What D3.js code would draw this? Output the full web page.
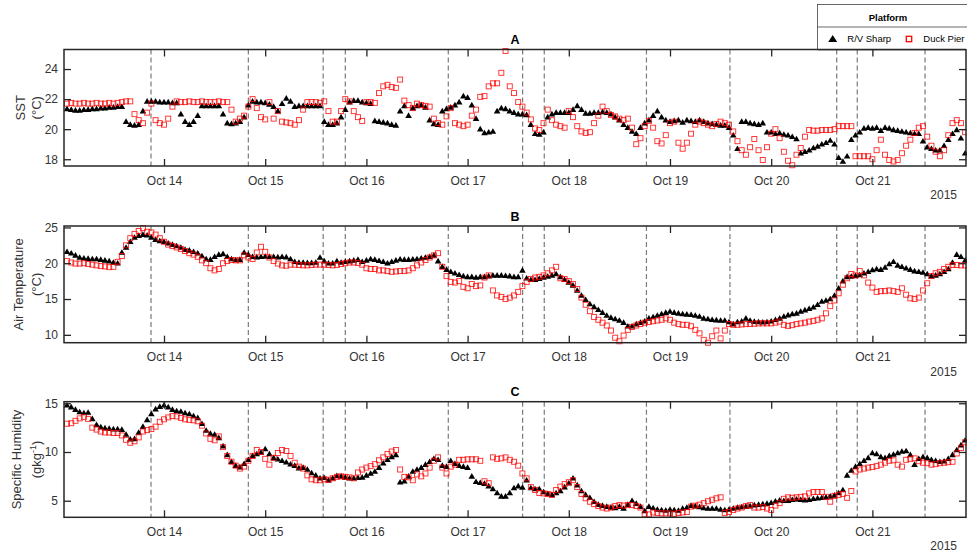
<!DOCTYPE html>
<html><head><meta charset="utf-8">
<script src="https://cdn.jsdelivr.net/npm/d3@7"></script>
<style>
body{margin:0;background:#fff;}
text{font-family:"Liberation Sans",Arial,Helvetica,sans-serif;}
</style>
</head><body>
<svg id="chart" width="967" height="557"></svg>
<script>
// ---------------- DATA ----------------
// hourly samples, first sample 2015-10-13 01:00
const sampleStart = Date.UTC(2015, 9, 13, 1, 0);
const sampleStepHours = 1;

const sstSharp = [21.35,21.3,21.25,21.25,21.3,21.3,21.35,21.35,21.4,21.4,21.45,21.45,21.5,21.5,
20.5,20.3,20.25,20.3,21.2,
21.85,21.85,21.85,21.8,21.8,21.8,21.75,21.75,
21.0,20.5,20.3,20.5,20.9,
21.55,21.55,21.55,21.55,21.55,
21.0,20.4,20.35,20.4,20.5,20.8,21.6,21.85,
21.8,21.8,
21.75,21.65,21.5,21.2,21.7,22.05,21.85,21.5,21.55,21.55,21.55,21.55,21.55,21.55,
20.5,20.3,20.3,20.4,20.8,21.3,
21.8,21.9,21.9,21.8,21.75,21.7,
20.55,20.5,20.45,20.4,20.3,20.25,
21.2,21.55,20.9,21.4,21.55,21.6,21.45,20.6,20.35,20.3,
21.2,21.35,21.45,21.6,21.8,22.2,22.1,
21.6,20.7,20.0,19.75,19.8,19.85,21.2,
21.4,21.35,21.2,21.1,21.0,21.0,20.95,
20.3,19.7,19.65,19.8,
20.8,21.0,21.1,21.1,21.1,21.1,21.3,21.55,21.3,21.05,21.05,21.1,21.1,21.15,21.1,21.0,20.8,20.6,20.3,20.1,19.85,19.7,20.1,20.4,
20.6,20.9,21.2,20.8,20.6,20.5,20.55,20.6,20.45,20.6,20.55,20.5,20.6,20.5,20.4,20.35,20.3,20.25,20.25,20.1,
19.6,18.7,20.5,20.5,20.4,20.35,20.3,20.4,19.8,19.8,19.7,19.75,19.65,19.6,19.5,19.35,
18.4,18.5,18.6,18.75,18.85,19.0,19.1,19.25,19.0,18.1,17.85,18.2,19.3,19.6,19.8,20.05,20.1,20.05,20.1,19.9,
20.1,20.05,19.95,19.9,19.85,19.8,19.75,19.7,19.7,19.2,18.8,18.7,18.6,18.6,18.9,19.3,19.7,19.95,19.4,18.4];

const sstDuck = [21.7,21.75,21.7,21.7,21.75,21.7,21.7,21.75,21.7,21.7,21.75,21.7,21.75,21.8,
21.85,21.85,21.0,20.6,20.4,21.1,21.7,20.6,20.4,20.3,20.7,21.5,21.85,
21.8,21.8,21.85,21.8,21.8,21.85,21.8,21.8,21.8,21.85,21.8,21.8,21.3,
20.5,20.7,20.9,21.5,22.0,21.4,20.8,20.65,21.8,20.7,21.2,20.5,20.45,20.4,20.3,20.6,21.3,21.8,21.8,21.8,21.75,
21.85,21.2,20.5,20.5,21.2,22.0,21.85,21.2,20.8,20.55,21.8,21.8,21.75,22.4,22.85,22.95,22.8,22.75,23.3,
21.9,21.6,21.4,21.7,21.6,21.55,21.5,20.7,20.4,20.3,20.85,21.4,20.4,20.3,20.2,20.3,20.9,21.3,
22.15,22.2,22.85,23.05,23.05,23.75,25.2,22.85,22.4,21.8,21.5,21.1,20.65,20.05,
19.95,20.4,21.3,20.6,20.3,20.2,20.1,21.2,20.8,20.2,19.85,19.75,19.8,20.4,20.9,21.5,21.2,20.95,20.85,20.7,20.6,20.7,20.1,19.0,
19.4,20.2,20.55,20.1,19.2,19.05,19.6,20.4,20.5,19.1,18.7,19.1,19.7,20.3,20.5,20.4,20.3,20.2,20.35,20.5,
20.4,20.3,19.85,19.2,18.6,18.3,18.8,19.35,18.6,17.95,18.8,19.7,20.0,19.4,18.5,17.9,17.6,18.3,18.75,19.5,
19.95,19.9,19.9,19.95,19.95,19.95,20.0,20.2,20.2,20.2,20.2,18.2,18.2,18.2,18.2,18.0,18.6,19.3,18.3,17.95,
17.85,17.95,18.4,18.9,19.3,19.75,20.1,20.2,19.5,18.9,18.5,18.2,18.6,19.6,20.4,20.6,20.4,19.8];

const airSharp = [21.6,21.4,21.1,20.8,20.7,20.65,20.6,20.6,20.5,20.4,20.3,20.1,20.0,
21.5,22.2,23.0,23.6,23.85,24.0,23.9,23.6,23.3,23.1,23.0,22.8,22.6,22.4,22.2,21.9,21.8,21.6,21.4,21.0,
20.6,20.5,20.9,21.2,21.3,20.9,20.6,20.45,20.5,21.5,21.2,20.9,20.85,20.9,20.95,20.9,20.9,20.85,20.9,20.85,
20.6,20.2,20.1,20.1,20.05,20.05,20.1,20.8,20.3,
20.0,20.0,20.3,20.1,20.2,20.3,20.4,20.5,20.2,20.4,20.6,20.5,20.35,20.2,20.0,20.2,20.4,20.55,20.5,20.5,
20.55,20.6,20.7,20.8,20.9,21.1,20.3,19.5,19.1,18.8,18.6,18.4,18.2,18.1,18.1,18.0,18.1,18.1,18.2,18.3,
18.3,18.3,18.25,18.2,18.1,18.1,19.0,17.9,17.7,17.7,17.85,18.0,18.15,18.3,18.5,18.1,17.7,17.3,16.9,16.2,
15.5,14.9,14.3,13.9,13.5,13.1,12.7,12.4,12.2,12.0,11.7,11.2,11.2,11.5,11.7,11.9,
12.3,12.5,12.7,12.9,13.1,13.25,13.1,13.0,12.9,12.85,12.8,12.7,12.55,12.3,12.2,12.1,12.05,12.0,12.0,11.8,
11.5,11.8,11.9,12.3,12.0,11.85,11.8,11.75,11.8,11.9,12.1,12.3,12.55,12.75,12.9,13.0,13.25,13.45,13.65,13.85,
14.2,14.65,14.8,15.0,15.5,16.5,17.5,18.1,18.15,18.25,18.35,18.6,18.8,19.05,19.2,19.1,19.4,19.9,20.2,19.7,
19.5,19.3,19.1,18.9,18.8,18.7,18.5,18.2,18.3,18.5,18.8,19.2,20.1,21.2,20.9,20.4];

const airDuck = [20.3,20.1,19.95,19.95,20.0,19.9,19.8,19.7,19.6,19.55,19.45,19.5,20.2,21.0,22.5,23.5,24.1,24.5,24.9,24.4,
24.3,24.0,23.5,23.0,22.6,22.4,22.2,22.0,21.7,21.4,21.2,20.9,20.4,20.0,19.3,19.0,19.2,20.0,20.3,20.45,
20.4,20.4,21.1,20.8,20.6,21.5,22.3,21.6,20.8,20.3,19.95,19.7,19.65,19.8,19.8,19.75,19.7,19.7,19.75,19.8,19.8,19.8,
19.75,19.7,19.75,19.9,20.0,20.1,20.1,20.05,19.8,19.3,19.2,19.2,19.0,19.0,18.9,18.8,18.85,18.9,18.9,19.0,
19.3,19.7,20.1,20.45,20.8,21.1,21.4,19.5,18.2,17.4,17.3,17.5,16.7,16.5,17.1,16.8,16.9,18.0,18.3,16.2,
15.5,15.3,15.0,15.2,15.5,16.0,16.8,17.4,17.8,18.0,18.1,18.3,18.6,19.0,19.5,17.9,17.8,17.5,17.1,16.4,
15.2,14.2,13.3,12.5,12.1,11.7,11.3,10.6,9.6,9.1,9.9,10.7,11.1,11.3,11.5,11.7,
11.8,11.9,12.0,12.1,12.3,12.1,11.7,11.5,11.4,11.4,11.2,10.7,10.2,9.3,8.9,9.8,10.6,9.5,10.6,11.5,
11.4,11.4,11.45,11.5,11.5,11.55,11.6,11.6,11.6,11.6,11.7,11.85,11.4,11.25,11.35,11.5,11.6,11.7,11.85,11.95,
12.1,12.3,13.0,14.0,14.8,15.8,17.0,17.9,18.5,18.3,18.9,18.3,17.3,16.6,16.0,16.1,16.1,16.2,16.1,16.0,
16.5,15.6,15.1,15.0,15.2,16.2,17.2,18.2,18.6,18.8,19.2,19.5,19.75,19.75,19.7,19.7];

const shSharp = [14.8,14.6,14.35,14.1,14.0,14.05,13.4,12.8,12.55,12.45,12.4,12.35,12.35,12.3,11.8,11.3,11.35,12.0,12.6,13.3,
13.9,14.4,14.65,14.8,14.6,14.35,14.2,14.15,14.0,13.9,13.7,13.5,12.9,12.2,11.9,11.8,11.45,10.6,9.7,9.0,
8.6,8.45,8.8,9.2,9.6,9.8,9.95,10.3,9.8,9.4,9.25,9.1,8.95,8.75,8.6,8.35,8.4,8.2,7.85,7.6,7.3,7.35,
7.1,7.3,7.55,7.5,7.4,7.3,7.3,7.35,7.4,7.6,7.8,8.0,8.4,8.85,9.2,9.5,9.7,6.9,7.0,7.5,
8.0,8.2,8.4,8.7,9.0,9.3,9.2,8.6,8.5,9.1,8.8,8.6,8.5,8.4,7.5,6.95,6.85,6.75,6.5,6.2,
5.8,5.45,5.45,5.8,6.3,6.5,6.35,7.1,6.3,6.2,6.2,5.9,5.7,5.6,5.8,6.0,6.4,6.8,7.3,6.6,
6.0,5.6,5.3,4.9,4.6,4.5,4.4,4.3,4.25,4.4,4.2,4.6,5.0,4.7,4.4,3.95,
4.4,4.25,4.1,4.05,4.0,4.1,4.05,4.0,4.2,4.3,4.5,4.45,4.35,4.25,4.2,4.2,4.2,4.1,4.05,4.1,
4.2,4.3,4.35,4.4,4.45,4.55,4.6,4.65,4.7,4.8,4.95,5.05,5.0,5.0,5.1,5.15,5.1,5.05,5.1,5.2,
5.25,5.3,5.35,5.45,5.55,5.8,6.1,7.6,8.1,8.5,8.8,9.1,9.4,9.9,9.8,9.5,9.4,9.6,9.75,9.9,
10.05,10.1,9.7,8.7,9.3,9.5,9.4,9.2,9.1,9.0,9.05,9.3,9.7,10.2,10.7,11.2];

const shDuck = [12.9,12.95,13.2,13.45,13.6,13.4,12.5,12.3,12.1,12.0,12.0,11.95,11.95,11.7,11.25,10.95,11.1,11.5,12.1,12.25,
12.35,12.6,13.1,13.35,13.55,13.7,13.65,13.5,13.35,13.3,13.25,13.15,12.7,11.9,11.35,11.2,11.6,10.5,9.6,9.0,
8.6,8.3,8.5,9.1,9.6,10.2,10.0,9.3,8.7,9.4,9.9,10.2,10.1,9.6,8.9,8.5,8.3,7.6,7.2,7.1,7.1,7.2,
7.15,7.3,7.45,7.5,7.45,7.4,7.3,7.9,8.2,8.4,8.55,8.75,9.15,9.45,9.8,10.05,10.2,8.2,7.45,7.4,
7.1,7.7,7.5,7.8,8.4,9.1,9.45,8.4,7.8,8.5,8.7,9.2,9.2,9.25,9.25,9.25,9.1,7.0,6.8,9.45,
9.3,9.35,9.45,9.2,9.0,8.6,7.8,7.3,6.4,6.1,5.8,5.75,5.7,5.6,6.1,6.45,6.7,6.9,7.1,6.4,
5.7,5.25,4.9,4.65,4.45,4.3,4.2,4.3,4.45,4.55,4.5,4.55,4.55,4.45,4.3,3.6,
3.6,3.8,3.75,3.7,3.7,3.7,3.65,3.75,3.8,3.85,4.4,4.5,4.6,4.75,4.95,5.1,5.25,5.35,3.75,3.85,
4.05,4.2,4.3,4.45,4.55,4.3,4.3,4.35,4.2,4.05,4.5,4.75,5.2,5.35,5.3,5.35,5.4,5.45,5.75,5.9,
5.9,5.9,5.4,4.9,5.5,5.6,5.7,5.3,6.0,8.0,8.2,8.3,8.4,8.45,8.55,8.7,8.9,9.1,9.15,8.7,
8.5,9.2,9.3,9.35,9.05,8.9,8.85,8.7,8.75,8.85,8.9,8.95,9.0,9.85,10.4,11.0];

// event times (dashed vertical lines)
const eventTimes = ["2015-10-13T20:55Z","2015-10-14T20:00Z","2015-10-15T13:45Z","2015-10-15T19:00Z",
  "2015-10-16T19:25Z","2015-10-17T13:03Z","2015-10-17T18:11Z","2015-10-18T18:25Z",
  "2015-10-19T14:13Z","2015-10-20T15:32Z","2015-10-20T20:25Z","2015-10-21T12:29Z"];
const dayTicks = ["2015-10-14","2015-10-15","2015-10-16","2015-10-17","2015-10-18","2015-10-19","2015-10-20","2015-10-21"];
const xDomain = ["2015-10-13T00:17Z","2015-10-21T22:12Z"];
const yearLabel = "2015";
const seriesNames = ["R/V Sharp","Duck Pier"];
const legendTitle = "Platform";

const sstTicks = [18,20,22,24];
const airTicks = [10,15,20,25];
const shTicks = [5,10,15];

// ---------------- LAYOUT ----------------
const panels = [
  {title:"A", sharp:sstSharp, duck:sstDuck, domain:[17.55,25.3], ticks:sstTicks, top:49.5, bottom:166,
   label:["SST","(°C)"], l1x:25},
  {title:"B", sharp:airSharp, duck:airDuck, domain:[8.9,25.2], ticks:airTicks, top:226, bottom:342.7,
   label:["Air Temperature","(°C)"], l1x:23},
  {title:"C", sharp:shSharp, duck:shDuck, domain:[3.3,15.16], ticks:shTicks, top:401.7, bottom:517.3,
   label:["Specific Humidity","(gkg^-1)"], l1x:21}
];
const left = 64, right = 966;
const axisColor = "#262626";
const svg = d3.select("#chart");

const x = d3.scaleUtc().domain(xDomain.map(d => new Date(d))).range([left, right]);
const events = eventTimes.map(d => new Date(d));
const ticksX = dayTicks.map(d => new Date(d + "T00:00Z"));
const fmt = d3.utcFormat("%b %d");
const tri = "M0,-3.3L3.3,2.3L-3.3,2.3Z";

panels.forEach(p => {
  const y = d3.scaleLinear().domain(p.domain).range([p.bottom, p.top]);
  const g = svg.append("g");
  const times = p.sharp.map((_, i) => new Date(sampleStart + i * sampleStepHours * 3600e3));
  const timesD = p.duck.map((_, i) => new Date(sampleStart + i * sampleStepHours * 3600e3));

  // dashed event lines
  g.append("g").selectAll("line").data(events).join("line")
    .attr("x1", d => x(d)).attr("x2", d => x(d))
    .attr("y1", p.top).attr("y2", p.bottom)
    .attr("stroke", "#7a7a7a").attr("stroke-width", 1.2).attr("stroke-dasharray", "5,3");

  // R/V Sharp triangles
  g.append("g").selectAll("path").data(p.sharp).join("path")
    .attr("d", tri)
    .attr("transform", (d, i) => `translate(${x(times[i])},${y(d)})`)
    .attr("fill", "#000");

  // Duck Pier squares
  g.append("g").selectAll("rect").data(p.duck).join("rect")
    .attr("x", (d, i) => x(timesD[i]) - 2.5).attr("y", d => y(d) - 2.5)
    .attr("width", 5).attr("height", 5)
    .attr("fill", "none").attr("stroke", "#ff0000").attr("stroke-width", 0.9).attr("stroke-opacity", 0.85);

  // axes
  const ax = (axis) => axis;
  const gB = g.append("g").attr("transform", `translate(0,${p.bottom})`)
    .call(d3.axisBottom(x).tickValues(ticksX).tickFormat(fmt).tickSizeInner(-7).tickSizeOuter(0).tickPadding(10));
  const gT = g.append("g").attr("transform", `translate(0,${p.top})`)
    .call(d3.axisTop(x).tickValues(ticksX).tickFormat("").tickSizeInner(-7).tickSizeOuter(0));
  const gL = g.append("g").attr("transform", `translate(${left},0)`)
    .call(d3.axisLeft(y).tickValues(p.ticks).tickSizeInner(-7).tickSizeOuter(0).tickPadding(6));
  const gR = g.append("g").attr("transform", `translate(${right},0)`)
    .call(d3.axisRight(y).tickValues(p.ticks).tickFormat("").tickSizeInner(-7).tickSizeOuter(0));
  [gB, gT, gL, gR].forEach(a => {
    a.select(".domain").remove();
    a.selectAll(".tick line").attr("stroke", axisColor).attr("stroke-width", 1.3);
    a.selectAll(".tick text").attr("fill", "#333").style("font-size", "12px");
  });

  g.append("rect").attr("x", left).attr("y", p.top).attr("width", right - left).attr("height", p.bottom - p.top)
    .attr("fill", "none").attr("stroke", axisColor).attr("stroke-width", 1.5);

  // title
  g.append("text").attr("x", (left + right) / 2).attr("y", p.top - 5.5).attr("text-anchor", "middle")
    .style("font-size", "12.5px").style("font-weight", "bold").attr("fill", "#000").text(p.title);

  // year label
  g.append("text").attr("x", 957).attr("y", p.bottom + 33).attr("text-anchor", "end")
    .style("font-size", "12px").attr("fill", "#333").text(yearLabel);

  // y label
  const cy = (p.top + p.bottom) / 2;
  g.append("text").attr("transform", `translate(${p.l1x},${cy}) rotate(-90)`).attr("text-anchor", "middle")
    .style("font-size", "13px").attr("fill", "#333").text(p.label[0]);
  const t2 = g.append("text").attr("transform", `translate(40.8,${cy}) rotate(-90)`).attr("text-anchor", "middle")
    .style("font-size", "13px").attr("fill", "#333");
  if (p.label[1].includes("^")) {
    const [base, sup] = p.label[1].split("^");
    t2.append("tspan").text(base);
    t2.append("tspan").attr("dy", -5).style("font-size", "9px").text(sup);
    t2.append("tspan").attr("dy", 5).text(")");
    // strip trailing ')' from base handled below
    t2.select("tspan").text(base);
  } else {
    t2.text(p.label[1]);
  }
});

// fix superscript label: remove ")" duplication from sup text
svg.selectAll("tspan").each(function() {
  const s = d3.select(this);
  if (s.text() === "-1)") s.text("-1");
});

// ---------------- LEGEND ----------------
const lg = svg.append("g");
lg.append("rect").attr("x", 817.5).attr("y", 4.5).attr("width", 160).attr("height", 45)
  .attr("fill", "#fff").attr("stroke", "#444").attr("stroke-width", 0.8);
lg.append("line").attr("x1", 817.5).attr("x2", 977).attr("y1", 27).attr("y2", 27)
  .attr("stroke", "#444").attr("stroke-width", 0.8);
lg.append("text").attr("x", 888).attr("y", 20.5).attr("text-anchor", "middle")
  .style("font-size", "9.5px").style("font-weight", "bold").attr("fill", "#000").text(legendTitle);
lg.append("path").attr("d", "M0,-4L4.5,3L-4.5,3Z").attr("transform", "translate(832.7,39)").attr("fill", "#000");
lg.append("text").attr("x", 847.3).attr("y", 42.3).style("font-size", "9.5px").attr("fill", "#000").text(seriesNames[0]);
lg.append("rect").attr("x", 906.3).attr("y", 36.3).attr("width", 5.4).attr("height", 5.4)
  .attr("fill", "none").attr("stroke", "#ff0000").attr("stroke-width", 1.3);
lg.append("text").attr("x", 923.3).attr("y", 42.3).style("font-size", "9.5px").attr("fill", "#000").text(seriesNames[1]);
// redraw panel A top edge over legend bottom
svg.append("line").attr("x1", 817.5).attr("x2", right).attr("y1", 49.5).attr("y2", 49.5)
  .attr("stroke", axisColor).attr("stroke-width", 1.5);
</script>
</body></html>
